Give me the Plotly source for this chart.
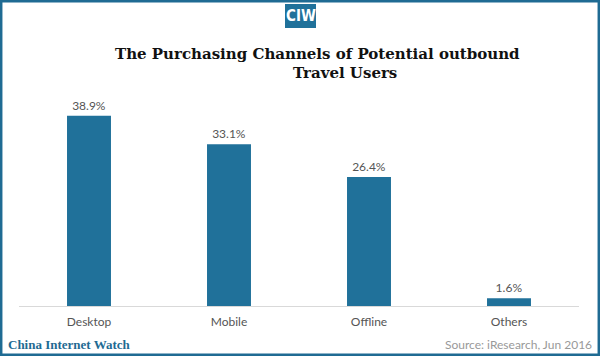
import plotly.graph_objects as go

categories = ["Desktop", "Mobile", "Offline", "Others"]
values = [38.9, 33.1, 26.4, 1.6]
value_labels = ["38.9%", "33.1%", "26.4%", "1.6%"]

W, H = 600, 356
ML, MR, MT, MB = 19, 21, 86, 50
PW, PH = W - ML - MR, H - MT - MB


def px(x):
    return (x - ML) / PW


def py(y):
    return (H - MB - y) / PH


BLUE = "#20719a"
SANS = "Lato, 'Open Sans', sans-serif"
SERIF = "'Liberation Serif', 'DejaVu Serif', serif"
TSERIF = "'DejaVu Serif', 'Liberation Serif', serif"

fig = go.Figure()
fig.add_trace(go.Bar(
    x=categories, y=values, text=value_labels, textposition="outside",
    marker=dict(color=BLUE, line=dict(width=0)),
    textfont=dict(family=SANS, size=12, color="#555555"),
    cliponaxis=False, hoverinfo="skip",
))

fig.update_layout(
    width=W, height=H,
    margin=dict(l=ML, r=MR, t=MT, b=MB),
    paper_bgcolor="white", plot_bgcolor="white",
    bargap=0.686, showlegend=False,
    xaxis=dict(showline=True, linecolor="#d9d9d9", linewidth=1, ticks="",
               tickfont=dict(family=SANS, size=12, color="#555555"),
               showgrid=False, fixedrange=True, ticklabelstandoff=5),
    yaxis=dict(range=[0, 45], visible=False, showgrid=False, fixedrange=True),
    shapes=[
        dict(type="rect", xref="paper", yref="paper",
             x0=px(1.2), x1=px(598.8), y0=py(1.2), y1=py(354.8),
             line=dict(color="#1f6b93", width=2.5), fillcolor="rgba(0,0,0,0)", layer="above"),
        dict(type="rect", xref="paper", yref="paper",
             x0=px(285), x1=px(316), y0=py(4), y1=py(28),
             line=dict(width=0), fillcolor=BLUE),
    ],
    annotations=[
        dict(text="<b>CIW</b>", xref="paper", yref="paper", x=px(300.5), y=py(16),
             showarrow=False, xanchor="center", yanchor="middle",
             font=dict(family="'Liberation Sans Narrow', 'DejaVu Sans Condensed', sans-serif", size=15, color="white")),
        dict(text="<b>The Purchasing Channels of Potential outbound</b>", xref="paper", yref="paper",
             x=px(317), y=py(54), showarrow=False, xanchor="center", yanchor="middle",
             font=dict(family=TSERIF, size=15, color="#111111")),
        dict(text="<b>Travel Users</b>", xref="paper", yref="paper",
             x=px(345), y=py(73), showarrow=False, xanchor="center", yanchor="middle",
             font=dict(family=TSERIF, size=15, color="#111111")),
        dict(text="<b>China Internet Watch</b>", xref="paper", yref="paper",
             x=px(6), y=py(344), showarrow=False, xanchor="left", yanchor="middle",
             font=dict(family=SERIF, size=13, color="#1f6b93")),
        dict(text="Source: iResearch, Jun 2016", xref="paper", yref="paper",
             x=px(594), y=py(344), showarrow=False, xanchor="right", yanchor="middle",
             font=dict(family=SANS, size=12, color="#999999")),
    ],
)

fig.write_html(
    "out.html",
    config={"displayModeBar": False},
    post_script="document.body.style.margin='0';document.body.style.overflow='hidden';",
)
